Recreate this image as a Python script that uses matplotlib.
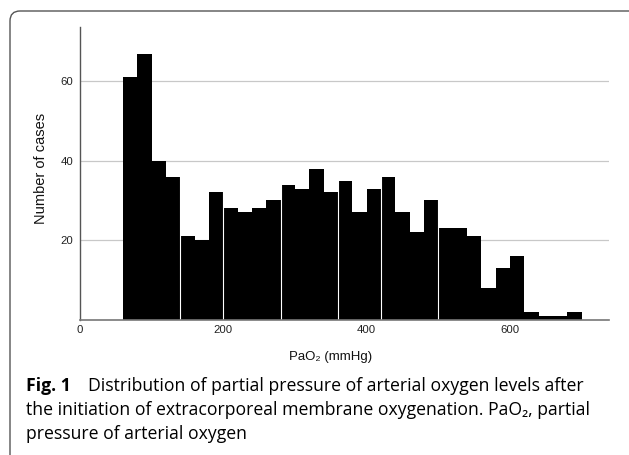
import numpy as np
import matplotlib.pyplot as plt
from matplotlib.patches import FancyBboxPatch

# PaO2 histogram, 20 mmHg bins from 60 to 700
bin_start = 60
bin_width = 20
counts = [61, 67, 40, 36, 21, 20, 32, 28, 27, 28, 30, 34, 33, 38, 32, 35,
          27, 33, 36, 27, 22, 30, 23, 23, 21, 8, 13, 16, 2, 1, 1, 2]
# bin edges where the source shows a thin white seam between bars
seams = [140, 200, 280, 360, 420, 500]

y_ticks = [20, 40, 60]
x_ticks = [0, 200, 400, 600]

W, H = 629, 455
fig = plt.figure(figsize=(W / 100, H / 100), dpi=100)

def fx(px):
    return px / W

def fy(py):
    return 1 - py / H

# axes box: left 80, right 609, top 27, bottom 319.5 (pixels)
ax = fig.add_axes([fx(80), fy(319.5), (609 - 80) / W, (319.5 - 27) / H])

edges = bin_start + bin_width * np.arange(len(counts))
ax.bar(edges, counts, width=bin_width, align='edge', color='black',
       linewidth=0, zorder=2)

# white seams between some bars
for s in seams:
    i = (s - bin_start) // bin_width
    top = max(counts[i - 1], counts[i])
    ax.plot([s, s], [0, top], color='white', lw=0.8, zorder=3)

ax.set_xlim(0, 738)
ax.set_ylim(0, 73.7)
ax.set_yticks(y_ticks)
ax.set_xticks(x_ticks)
ax.grid(axis='y', color='#c8c8c8', lw=0.9, zorder=0)
ax.tick_params(length=0, labelsize=8.2, colors='#222222')
ax.tick_params(axis='y', pad=5)
ax.tick_params(axis='x', pad=4)
for lab in ax.get_xticklabels() + ax.get_yticklabels():
    lab.set_family('Liberation Sans')
for side in ['top', 'right']:
    ax.spines[side].set_visible(False)
ax.spines['left'].set_color('#555555')
ax.spines['bottom'].set_color('#777777')
ax.spines['left'].set_linewidth(1.0)
ax.spines['bottom'].set_linewidth(1.2)
ax.spines['bottom'].set_zorder(4)

lab_font = ['Liberation Sans', 'DejaVu Sans']
fig.text(fx(41), fy(168), 'Number of cases', rotation=90, ha='center',
         va='center', fontsize=10.5, family=lab_font, color='#111111')
fig.text(fx(331), fy(357), 'PaO\u2082 (mmHg)', ha='center', va='center',
         fontsize=9.5, family=lab_font, color='#111111')

# caption
cap_font = ['Open Sans', 'DejaVu Sans']
cap_size = 12.7
fig.text(fx(26), fy(386), 'Fig. 1', ha='left', va='center',
         fontsize=cap_size, family=cap_font, weight='bold')
fig.text(fx(88), fy(386), 'Distribution of partial pressure of arterial oxygen levels after',
         ha='left', va='center', fontsize=cap_size, family=cap_font)
fig.text(fx(26), fy(410), 'the initiation of extracorporeal membrane oxygenation. PaO\u2082, partial',
         ha='left', va='center', fontsize=cap_size, family=cap_font)
fig.text(fx(26), fy(434), 'pressure of arterial oxygen',
         ha='left', va='center', fontsize=cap_size, family=cap_font)

# rounded frame, clipped by the right and bottom edges
frame = FancyBboxPatch((0.10, -0.15), 6.35, 4.59,
                       boxstyle='round,pad=0,rounding_size=0.1',
                       transform=fig.dpi_scale_trans, fill=False,
                       edgecolor='#555555', lw=1.0)
fig.patches.append(frame)

fig.savefig('out.png', dpi=100)
